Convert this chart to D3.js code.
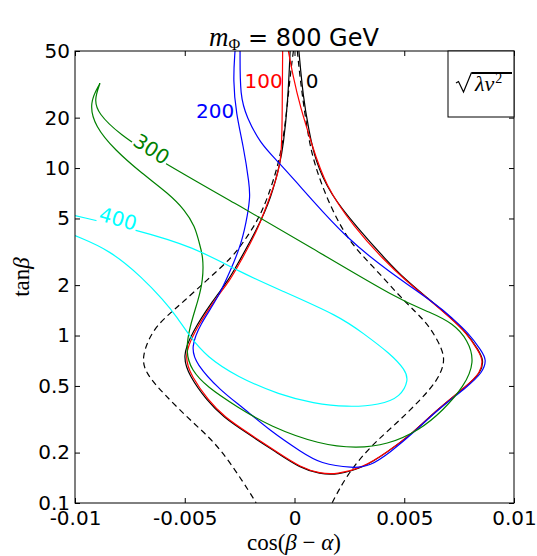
<!DOCTYPE html>
<html>
<head>
<meta charset="utf-8">
<script src="https://cdn.jsdelivr.net/npm/d3@7/dist/d3.min.js"></script>
<style>
  body { margin: 0; background: #fff; }
</style>
</head>
<body>
<div class="canvas"></div>
<script>
// axis ticks
const xTicks = [-0.01, -0.005, 0, 0.005, 0.01];
const xTickLabels = ['-0.01', '-0.005', '0', '0.005', '0.01'];
const yTicks = [0.1, 0.2, 0.5, 1, 2, 5, 10, 20, 50];
const yTickLabels = ['0.1', '0.2', '0.5', '1', '2', '5', '10', '20', '50'];

// contours [cos(beta-alpha), tan(beta)]
const black0 = [[-0.00020, 50], [-0.00030, 25], [-0.00051, 13.6], [-0.00066, 10.7], [-0.00105, 6.7], [-0.00172, 4.27], [-0.00257, 2.71], [-0.00300, 2.14], [-0.00371, 1.63], [-0.00468, 1.04], [-0.00512, 0.75], [-0.00478, 0.57], [-0.00400, 0.41], [-0.00324, 0.325], [-0.00218, 0.262], [-0.00081, 0.20], [0.00025, 0.162], [0.00116, 0.149], [0.00192, 0.147], [0.00313, 0.162], [0.00420, 0.20], [0.00540, 0.262], [0.00648, 0.36], [0.00785, 0.50], [0.00850, 0.60], [0.00862, 0.715], [0.00840, 0.81], [0.00785, 1.04], [0.00708, 1.29], [0.00617, 1.63], [0.00508, 2.14], [0.00420, 2.80], [0.00283, 4.45], [0.00162, 7.0], [0.00095, 11.0], [0.00065, 16.9], [0.00039, 26.7], [0.00020, 50]];
const red100 = [[-0.00054, 50], [-0.00056, 25], [-0.00057, 10.8], [-0.00093, 7.9], [-0.00165, 4.3], [-0.00250, 2.71], [-0.00293, 2.14], [-0.00364, 1.63], [-0.00460, 1.04], [-0.00504, 0.75], [-0.00470, 0.57], [-0.00393, 0.41], [-0.00318, 0.325], [-0.00212, 0.262], [-0.00076, 0.20], [0.00028, 0.163], [0.00116, 0.150], [0.00192, 0.148], [0.00313, 0.163], [0.00420, 0.20], [0.00540, 0.262], [0.00648, 0.36], [0.00785, 0.50], [0.00848, 0.60], [0.00859, 0.715], [0.00838, 0.81], [0.00783, 1.04], [0.00706, 1.29], [0.00615, 1.63], [0.00505, 2.14], [0.00410, 2.80], [0.00270, 4.45], [0.00139, 7.9], [0.00078, 14.0], [0.00025, 23.5], [-0.00006, 35], [-0.00028, 50]];
const blue200 = [[-0.00271, 50], [-0.00280, 33.5], [-0.00266, 21.0], [-0.00233, 13.6], [-0.00205, 7.9], [-0.00203, 6.7], [-0.00212, 5.4], [-0.00240, 3.56], [-0.00294, 2.40], [-0.00354, 1.63], [-0.00430, 1.17], [-0.00472, 0.85], [-0.00450, 0.68], [-0.00339, 0.47], [-0.00233, 0.37], [-0.00112, 0.27], [0.00035, 0.20], [0.00116, 0.172], [0.00268, 0.161], [0.00344, 0.166], [0.00435, 0.20], [0.00545, 0.265], [0.00652, 0.36], [0.00792, 0.50], [0.00856, 0.60], [0.00876, 0.715], [0.00852, 0.81], [0.00792, 1.04], [0.00712, 1.29], [0.00663, 1.48], [0.00420, 2.46], [0.00238, 3.80], [0.00056, 7.0], [0.00025, 7.8], [-0.00080, 11.1], [-0.00157, 14.1], [-0.00218, 20.2], [-0.00248, 26.7], [-0.00248, 50]];
const green300 = [[-0.00886, 32.1], [-0.00913, 25.5], [-0.00894, 21.2], [-0.00803, 16.1], [-0.00620, 11.2], [-0.00271, 6.16], [0.00071, 3.39], [0.00481, 1.62], [0.00617, 1.38], [0.00723, 1.18], [0.00790, 0.94], [0.00822, 0.695], [0.00772, 0.495], [0.00678, 0.359], [0.00572, 0.273], [0.00420, 0.222], [0.00283, 0.212], [0.00116, 0.223], [-0.00112, 0.286], [-0.00263, 0.376], [-0.00400, 0.495], [-0.00470, 0.622], [-0.00496, 0.80], [-0.00478, 1.13], [-0.00438, 1.63], [-0.00417, 2.14], [-0.00415, 2.95], [-0.00438, 3.72], [-0.00453, 4.46], [-0.00499, 5.61], [-0.00575, 7.06], [-0.00696, 9.3], [-0.00818, 12.8], [-0.00909, 17.7], [-0.00936, 24.5], [-0.00886, 32.1]];
const cyan400 = [[-0.01000, 5.2], [-0.00719, 4.27], [-0.00461, 3.39], [-0.00248, 2.39], [-0.00066, 1.87], [0.00207, 1.30], [0.00313, 1.03], [0.00435, 0.783], [0.00505, 0.622], [0.00520, 0.542], [0.00484, 0.431], [0.00390, 0.385], [0.00238, 0.373], [0.00086, 0.394], [-0.00066, 0.441], [-0.00263, 0.568], [-0.00400, 0.747], [-0.00476, 0.984], [-0.00537, 1.30], [-0.00598, 1.63], [-0.00689, 2.19], [-0.00841, 3.24], [-0.01000, 3.95]];
const dashLeft = [[-0.00005, 50], [-0.00021, 34.5], [-0.00043, 17.3], [-0.00071, 10.7], [-0.00121, 6.7], [-0.00166, 4.89], [-0.00226, 3.72], [-0.00280, 2.96], [-0.00399, 2.14], [-0.00508, 1.585], [-0.00567, 1.36], [-0.00648, 1.08], [-0.00698, 0.74], [-0.00678, 0.596], [-0.00599, 0.452], [-0.00462, 0.30], [-0.00339, 0.217], [-0.00189, 0.108], [-0.00175, 0.1]];
const dashRight = [[0.00013, 50], [0.00025, 34.5], [0.00056, 17.3], [0.00086, 10.8], [0.00162, 5.88], [0.00253, 3.55], [0.00359, 2.58], [0.00466, 1.79], [0.00557, 1.36], [0.00617, 1.13], [0.00676, 0.82], [0.00684, 0.685], [0.00652, 0.54], [0.00572, 0.41], [0.00466, 0.30], [0.00344, 0.217], [0.00238, 0.147], [0.00171, 0.1]];

const contours = [
  { pts: dashLeft, color: '#000', dash: '6,4' },
  { pts: dashRight, color: '#000', dash: '6,4' },
  { pts: black0, color: '#000' },
  { pts: red100, color: '#ff0000' },
  { pts: blue200, color: '#0000ff' },
  { pts: green300, color: '#008000' },
  { pts: cyan400, color: '#00ffff' }
];

// contour labels: text, colour, position in data coords, rotation
const levelLabels = [
  { text: '0', color: '#000', at: [0.00080, 33.1], rot: 0, box: false },
  { text: '100', color: '#ff0000', at: [-0.00141, 33.1], rot: 0, box: false },
  { text: '200', color: '#0000ff', at: [-0.00362, 22.0], rot: 0, box: false },
  { text: '300', color: '#008000', at: [-0.00651, 13.0], rot: 33, box: true },
  { text: '400', color: '#00ffff', at: [-0.00804, 5.0], rot: 16, box: true }
];

const margin = { top: 51, right: 23, bottom: 53, left: 75 };
const graphWidth = 537 - margin.left - margin.right;
const graphHeight = 556 - margin.top - margin.bottom;

const svg = d3.select('.canvas')
  .append('svg')
  .attr('width', 537)
  .attr('height', 556);

const graph = svg.append('g')
  .attr('transform', `translate(${margin.left}, ${margin.top})`);

const x = d3.scaleLinear().domain([-0.01, 0.01]).range([0, graphWidth]);
const y = d3.scaleLog().domain([0.1, 50]).range([graphHeight, 0]);

graph.append('clipPath').attr('id', 'clip')
  .append('rect').attr('width', graphWidth).attr('height', graphHeight);

// smooth the hand-read points a little
const line = d3.line()
  .x(d => x(d[0]))
  .y(d => y(d[1]))
  .curve(d3.curveBasis);

const curves = graph.append('g').attr('clip-path', 'url(#clip)');
curves.selectAll('path')
  .data(contours)
  .enter()
  .append('path')
    .attr('d', d => line(d.pts))
    .attr('fill', 'none')
    .attr('stroke', d => d.color)
    .attr('stroke-width', 1.2)
    .attr('stroke-dasharray', d => d.dash || null);

// contour labels
levelLabels.forEach(l => {
  const g = graph.append('g')
    .attr('transform', `translate(${x(l.at[0])}, ${y(l.at[1])}) rotate(${l.rot})`);
  const t = g.append('text')
    .text(l.text)
    .attr('fill', l.color)
    .attr('font-family', 'DejaVu Sans')
    .attr('font-size', 20)
    .attr('text-anchor', 'middle')
    .attr('dy', '0.36em');
  if (l.box) {
    const b = t.node().getBBox();
    g.insert('rect', 'text')
      .attr('x', b.x - 1).attr('y', b.y + 2)
      .attr('width', b.width + 2).attr('height', b.height - 4)
      .attr('fill', '#fff');
  }
});

// axes, ticks pointing inward
const fmtX = (d, i) => xTickLabels[i];
const fmtY = (d, i) => yTickLabels[i];

const xAxisGroup = graph.append('g').attr('transform', `translate(0, ${graphHeight})`)
  .call(d3.axisBottom(x).tickValues(xTicks).tickFormat(fmtX).tickSizeInner(-5).tickSizeOuter(0).tickPadding(8));
const xTopGroup = graph.append('g')
  .call(d3.axisTop(x).tickValues(xTicks).tickFormat('').tickSizeInner(-5).tickSizeOuter(0));
const yAxisGroup = graph.append('g')
  .call(d3.axisLeft(y).tickValues(yTicks).tickFormat(fmtY).tickSizeInner(-5).tickSizeOuter(0).tickPadding(5));
const yRightGroup = graph.append('g').attr('transform', `translate(${graphWidth}, 0)`)
  .call(d3.axisRight(y).tickValues(yTicks).tickFormat('').tickSizeInner(-5).tickSizeOuter(0));

[xAxisGroup, xTopGroup, yAxisGroup, yRightGroup].forEach(g => {
  g.select('.domain').remove();
  g.selectAll('line').attr('stroke', '#000');
  g.selectAll('text')
    .attr('font-family', 'DejaVu Sans')
    .attr('font-size', 20)
    .attr('fill', '#000');
});

// frame
graph.append('rect')
  .attr('width', graphWidth)
  .attr('height', graphHeight)
  .attr('fill', 'none')
  .attr('stroke', '#000')
  .attr('stroke-width', 1);

// sqrt(lambda v^2) box, top right
const box = graph.append('g').attr('transform', `translate(${graphWidth - 66}, 0)`);
box.append('rect')
  .attr('width', 66).attr('height', 66)
  .attr('fill', '#fff').attr('stroke', '#000');
box.append('path')
  .attr('d', 'M8,32 L10.5,30.5 L15.5,41 L23.5,21.5')
  .attr('fill', 'none').attr('stroke', '#000').attr('stroke-width', 1.2);
box.append('path')
  .attr('d', 'M23.5,22 L64,22')
  .attr('stroke', '#000').attr('stroke-width', 2);
const sq = box.append('text')
  .attr('x', 27).attr('y', 40)
  .attr('font-family', 'Liberation Serif')
  .attr('font-style', 'italic')
  .attr('font-size', 22);
sq.append('tspan').text('λv');
sq.append('tspan').text('2').attr('font-style', 'normal').attr('font-size', 14).attr('dx', 1).attr('dy', -8);

// title
const title = svg.append('text')
  .attr('x', 294)
  .attr('y', 46)
  .attr('text-anchor', 'middle')
  .attr('font-size', 24)
  .attr('fill', '#000');
title.append('tspan').text('m').attr('font-family', 'Liberation Serif').attr('font-style', 'italic').attr('font-size', 27);
title.append('tspan').text('Φ').attr('font-family', 'Liberation Serif').attr('font-size', 16).attr('dy', 4);
title.append('tspan').text(' = 800 GeV').attr('font-family', 'DejaVu Sans').attr('dy', -4);

// axis labels
const xl = svg.append('text')
  .attr('x', 294).attr('y', 550)
  .attr('text-anchor', 'middle')
  .attr('font-family', 'Liberation Serif')
  .attr('font-size', 23);
xl.append('tspan').text('cos(');
xl.append('tspan').text('β').attr('font-style', 'italic');
xl.append('tspan').text(' − ');
xl.append('tspan').text('α').attr('font-style', 'italic');
xl.append('tspan').text(')');

const yl = svg.append('text')
  .attr('transform', `translate(29, ${margin.top + graphHeight / 2}) rotate(-90)`)
  .attr('text-anchor', 'middle')
  .attr('font-family', 'Liberation Serif')
  .attr('font-size', 23);
yl.append('tspan').text('tan');
yl.append('tspan').text('β').attr('font-style', 'italic');
</script>
</body>
</html>
